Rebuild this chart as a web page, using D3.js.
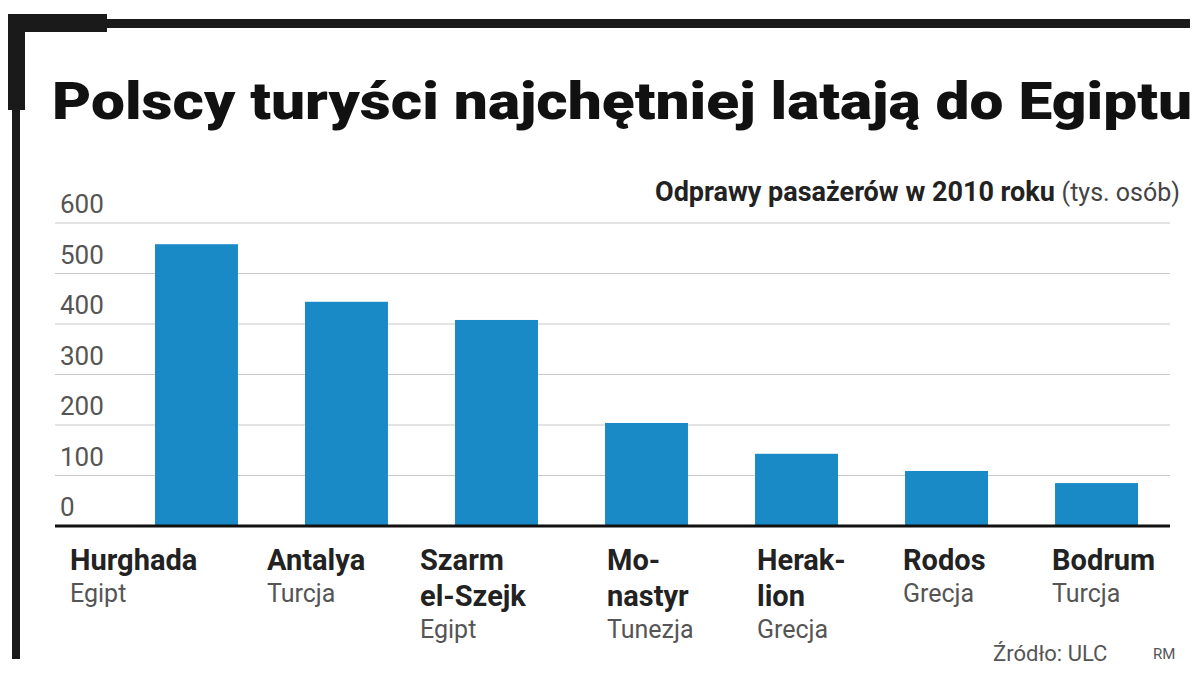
<!DOCTYPE html>
<html><head><meta charset="utf-8">
<script src="https://cdn.jsdelivr.net/npm/d3@7"></script>
<style>body{margin:0;background:#fff}svg{display:block}</style>
</head><body>
<svg id="chart" width="1200" height="691"></svg>
<script>
const cities = [['Hurghada'], ['Antalya'], ['Szarm', 'el-Szejk'], ['Mo-', 'nastyr'], ['Herak-', 'lion'], ['Rodos'], ['Bodrum']];
const countries = ['Egipt', 'Turcja', 'Egipt', 'Tunezja', 'Grecja', 'Grecja', 'Turcja'];
const values = [558, 444, 408, 204, 143, 109, 85];
const ticks = [0, 100, 200, 300, 400, 500, 600];

const svg = d3.select('#chart');
const font = 'Roboto, "Liberation Sans", sans-serif';

// frame
svg.append('rect').attr('x', 8).attr('y', 19).attr('width', 1182).attr('height', 9).attr('fill', '#1a1a1a');
svg.append('rect').attr('x', 8).attr('y', 14).attr('width', 99).attr('height', 18).attr('fill', '#1a1a1a');
svg.append('rect').attr('x', 8).attr('y', 14).attr('width', 17).attr('height', 96).attr('fill', '#1a1a1a');
svg.append('rect').attr('x', 12).attr('y', 14).attr('width', 8).attr('height', 645).attr('fill', '#1a1a1a');

svg.append('text').attr('x', 52).attr('y', 119).attr('font-family', font).attr('font-weight', 900)
	.attr('font-size', 52).attr('fill', '#111').attr('textLength', 1140).attr('lengthAdjust', 'spacingAndGlyphs')
	.text('Polscy turyści najchętniej latają do Egiptu');

const sub = svg.append('text').attr('x', 1180).attr('y', 201).attr('text-anchor', 'end').attr('font-family', font).attr('fill', '#222');
sub.append('tspan').attr('font-weight', 700).attr('font-size', 27).text('Odprawy pasażerów w 2010 roku ');
sub.append('tspan').attr('font-size', 25).attr('fill', '#444').text('(tys. osób)');

const y = d3.scaleLinear().domain([0, 600]).range([526, 223]);
const x = d3.scaleBand().domain(d3.range(values.length)).range([129.5, 1163.5]).paddingInner(0.447).paddingOuter(0.17);

svg.selectAll('.grid').data(ticks.slice(1)).enter().append('line')
	.attr('x1', 55).attr('x2', 1170).attr('y1', d => y(d)).attr('y2', d => y(d))
	.attr('stroke', '#c8c8c8').attr('stroke-width', 1.2);

svg.selectAll('.tick').data(ticks).enter().append('text')
	.attr('x', 60).attr('y', d => y(d) - 10).attr('font-family', font).attr('font-size', 26)
	.attr('fill', '#555').text(d => d);

svg.selectAll('.bar').data(values).enter().append('rect')
	.attr('x', (d, i) => x(i)).attr('width', x.bandwidth())
	.attr('y', d => y(d)).attr('height', d => y(0) - y(d)).attr('fill', '#1a8ac6');

svg.append('line').attr('x1', 55).attr('x2', 1170).attr('y1', 526).attr('y2', 526).attr('stroke', '#111').attr('stroke-width', 3);

const labelX = [70, 267, 420, 607, 757, 903, 1052];
cities.forEach((lines, i) => {
	const g = svg.append('text').attr('font-family', font).attr('fill', '#222');
	lines.forEach((l, j) => {
		g.append('tspan').attr('x', labelX[i]).attr('y', 570 + j * 36).attr('font-weight', 700).attr('font-size', 29).text(l);
	});
	svg.append('text').attr('x', labelX[i]).attr('y', 570 + lines.length * 36 - 4).attr('font-family', font)
		.attr('font-size', 25).attr('fill', '#555').text(countries[i]);
});

svg.append('text').attr('x', 993).attr('y', 661).attr('font-family', font).attr('font-size', 22).attr('fill', '#555').text('Źródło: ULC');
svg.append('text').attr('x', 1153).attr('y', 659).attr('font-family', font).attr('font-size', 15).attr('fill', '#555').text('RM');
</script>
</body></html>
